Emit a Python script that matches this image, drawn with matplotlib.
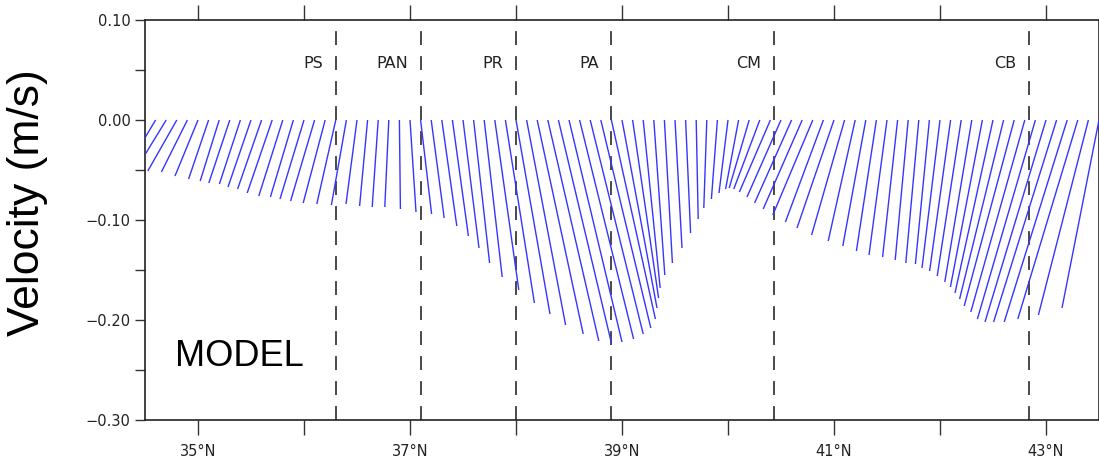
import matplotlib
matplotlib.use("Agg")
import matplotlib.pyplot as plt
from matplotlib.collections import LineCollection
import numpy as np

plt.rcParams['lines.scale_dashes'] = False

# stick positions (deg N) and velocity components (m/s)
lat = np.round(np.arange(34.6, 43.51, 0.1), 1)
u = [-0.028, -0.030, -0.029, -0.026, -0.023, -0.020, -0.019, -0.021, -0.021, -0.023,
     -0.024, -0.025, -0.024, -0.023, -0.024, -0.024, -0.022, -0.019, -0.015, -0.011,
     -0.008, -0.006, -0.004, 0.001, 0.006, 0.011, 0.013, 0.015, 0.016, 0.016,
     0.016, 0.018, 0.024, 0.029, 0.034, 0.039, 0.046, 0.051, 0.053, 0.053,
     0.054, 0.053, 0.050, 0.044, 0.035, 0.026, 0.017, 0.011, 0.008, 0.007,
     0.005, 0.002, -0.003, -0.006, -0.009, -0.013, -0.020, -0.026, -0.031, -0.034,
     -0.037, -0.039, -0.040, -0.038, -0.037, -0.033, -0.027, -0.023, -0.020, -0.018,
     -0.015, -0.013, -0.013, -0.014, -0.018, -0.021, -0.024, -0.027, -0.032, -0.038,
     -0.044, -0.050, -0.054, -0.058, -0.061, -0.063, -0.063, -0.060, -0.050, -0.037]
v = [-0.047, -0.049, -0.051, -0.052, -0.056, -0.059, -0.061, -0.063, -0.064, -0.067,
     -0.069, -0.073, -0.076, -0.077, -0.079, -0.081, -0.083, -0.084, -0.085, -0.084,
     -0.086, -0.087, -0.087, -0.089, -0.092, -0.094, -0.098, -0.106, -0.116, -0.128,
     -0.143, -0.157, -0.170, -0.183, -0.194, -0.205, -0.214, -0.221, -0.223, -0.222,
     -0.219, -0.214, -0.208, -0.199, -0.188, -0.178, -0.168, -0.155, -0.143, -0.128,
     -0.113, -0.099, -0.088, -0.079, -0.073, -0.069, -0.068, -0.069, -0.072, -0.077,
     -0.083, -0.089, -0.095, -0.102, -0.108, -0.115, -0.121, -0.126, -0.131, -0.135,
     -0.137, -0.140, -0.143, -0.144, -0.148, -0.151, -0.156, -0.162, -0.167, -0.173,
     -0.179, -0.186, -0.192, -0.199, -0.202, -0.202, -0.202, -0.199, -0.195, -0.188]

regions = ['PS', 'PAN', 'PR', 'PA', 'CM', 'CB']
region_lat = [36.3, 37.1, 38.0, 38.9, 40.43, 42.835]

xticks = [35, 36, 37, 38, 39, 40, 41, 42, 43]
xlabels = ['35°N', '', '37°N', '', '39°N', '', '41°N', '', '43°N']

fig = plt.figure(figsize=(10.99, 4.66), dpi=100)
ax = fig.add_axes([145 / 1099, 46 / 466, 954 / 1099, 400 / 466])
ax.set_xlim(34.5, 43.5)
ax.set_ylim(-0.30, 0.10)

# deg of latitude per m/s so sticks keep the y scale on screen
bb = ax.get_window_extent()
k = (bb.height / 0.40) / (bb.width / 9.0)
segs = [[(x, 0.0), (x + uu * k, vv)] for x, uu, vv in zip(lat, u, v)]
ax.add_collection(LineCollection(segs, colors='#3535ff', linewidths=1.0, zorder=3))

for name, x in zip(regions, region_lat):
    ax.axvline(x, color='#3a3a3a', lw=1.3, linestyle=(0, (10, 8)), zorder=2)
    ax.annotate(name, (x, 0.057), xytext=(-9, 0), textcoords='offset points',
                ha='right', va='center', fontsize=11.5, color='#222222',
                family=['Liberation Sans Narrow', 'DejaVu Sans'])

ax.text(34.78, -0.246, 'MODEL', fontsize=26, family='Liberation Sans', va='baseline')

ax.set_xticks(xticks)
ax.set_xticklabels(xlabels)
ax.set_yticks([-0.3, -0.2, -0.1, 0.0, 0.1])
ax.set_yticklabels(['\u22120.30', '\u22120.20', '\u22120.10', '0.00', '0.10'])
ax.set_yticks(np.arange(-0.25, 0.1, 0.1), minor=True)
ax.tick_params(axis='x', which='both', direction='out', length=11, width=1.0,
               top=True, color='#333333', labelsize=10.5, labelcolor='#222222', pad=6)
ax.tick_params(axis='y', which='both', direction='out', length=7.5, width=1.0,
               right=True, color='#333333', labelsize=10.5, labelcolor='#222222', pad=3)
for lab in ax.get_xticklabels() + ax.get_yticklabels():
    lab.set_family(['Liberation Sans Narrow', 'DejaVu Sans'])
for s in ax.spines.values():
    s.set_linewidth(1.2)
    s.set_color('#222222')

fig.text(28 / 1099, 1 - 203 / 466, 'Velocity (m/s)', rotation=90, ha='center', va='center',
         fontsize=32, family='Liberation Sans')

fig.savefig('out.png', dpi=100)
